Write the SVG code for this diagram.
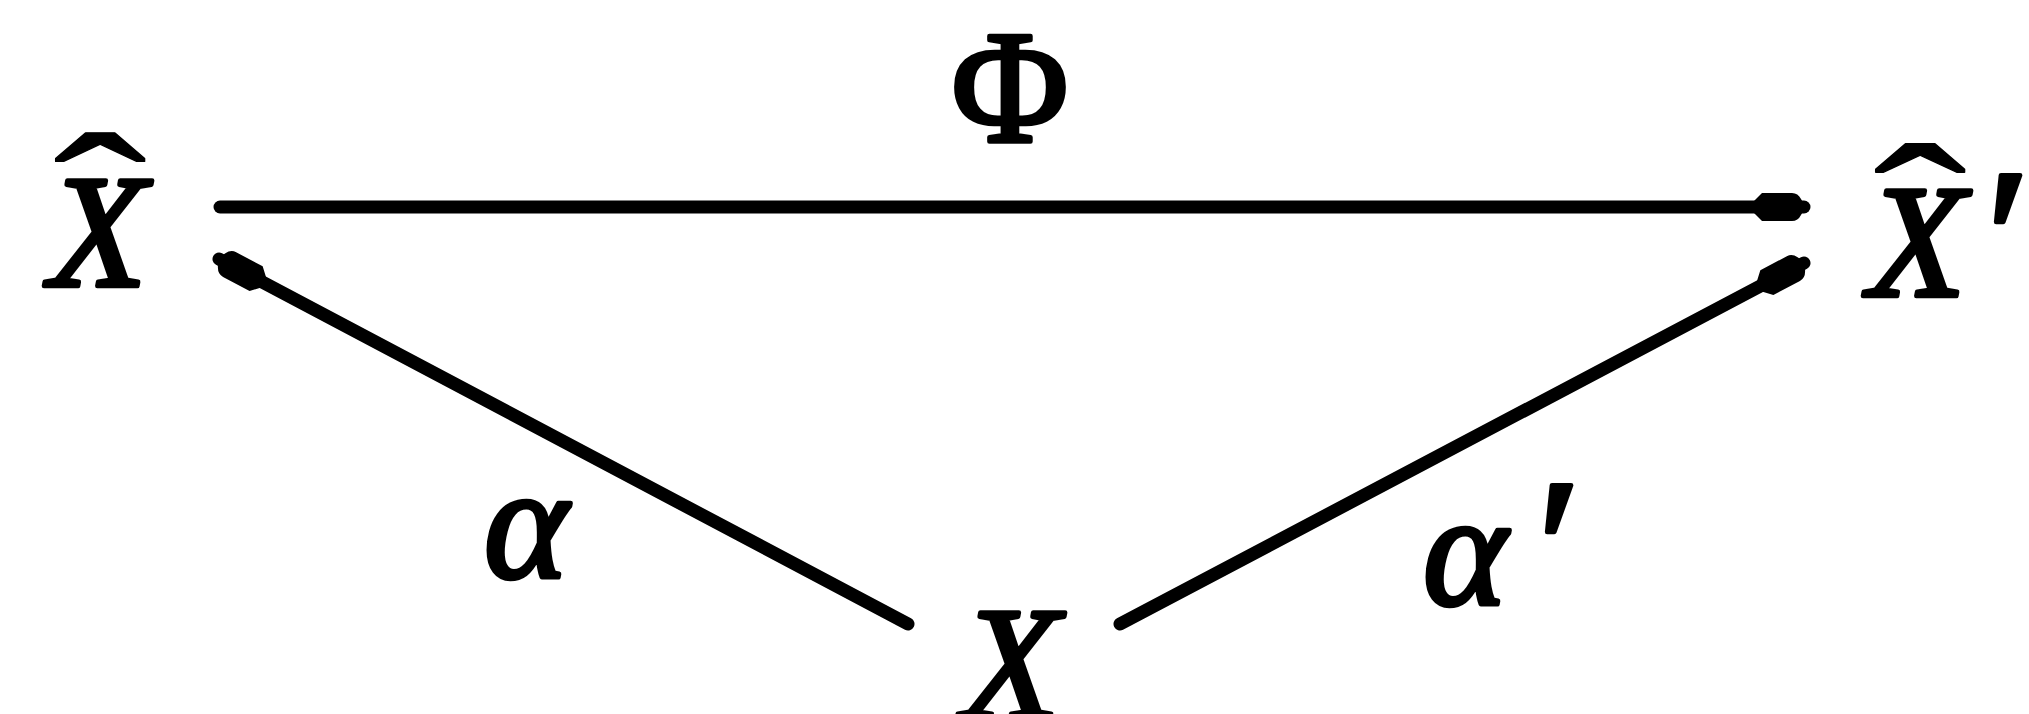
<svg xmlns="http://www.w3.org/2000/svg" width="2029" height="714" viewBox="0 0 2029 714">
<style>
.m{font-family:"Liberation Serif","Times New Roman",serif;font-size:160px;fill:#000;stroke:#000;stroke-width:4.5;stroke-linejoin:round}
.i{font-style:italic}
.h{stroke-width:1}
.p{font-size:200px}
.line{stroke:#000;stroke-width:13;fill:none;stroke-linecap:round}
</style>
<defs>
<marker id="head" markerUnits="userSpaceOnUse" markerWidth="70" markerHeight="40" refX="46" refY="0" viewBox="-15 -20 70 40" orient="auto">
<path d="M-4,-6 L4,-14 L34,-14 Q40,-14 43,-8 L47,-1 L47,1 L43,8 Q40,14 34,14 L4,14 L-4,6 Z" fill="#000"/>
</marker>
</defs>
<rect width="2029" height="714" fill="#fff"/>
<g id="connectors">
<path class="line" d="M220,207 L1804,207" marker-end="url(#head)"/>
<path class="line" d="M908,624 L219,259" marker-end="url(#head)"/>
<path class="line" d="M1120,624 L1804,263" marker-end="url(#head)"/>
</g>
<g id="node-Xhat">
<text class="m i" x="98" y="286" text-anchor="middle">X</text>
<text class="m h" transform="translate(100,0) scale(1.75,1.2)" x="0" y="222" text-anchor="middle">ˆ</text>
</g>
<g id="node-Xhatprime">
<text class="m i" x="1917" y="296" text-anchor="middle">X</text>
<text class="m h" transform="translate(1920,0) scale(1.75,1.2)" x="0" y="231" text-anchor="middle">ˆ</text>
<text class="m p" x="2008" y="306" text-anchor="middle">′</text>
</g>
<g id="node-X">
<text class="m i" x="1011" y="718" text-anchor="middle">X</text>
</g>
<g id="label-Phi">
<text class="m" x="1010" y="141" text-anchor="middle">Φ</text>
</g>
<g id="label-alpha">
<text class="m i" x="526" y="577" text-anchor="middle">α</text>
</g>
<g id="label-alphaprime">
<text class="m i" x="1465" y="604" text-anchor="middle">α</text>
<text class="m p" x="1559" y="616" text-anchor="middle">′</text>
</g>
</svg>
